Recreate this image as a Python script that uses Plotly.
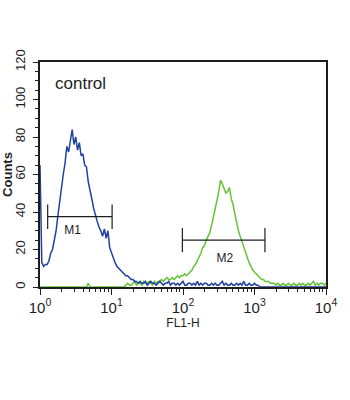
import plotly.graph_objects as go

# channel index: 40 channels per decade over 4 decades (FL1-H = 10**(ch/40))
channel = list(range(161))

blue_counts = (
    [65, 13, 11, 12, 12, 14, 18, 20, 25, 30, 38, 46, 52, 60, 66, 75, 72, 79, 84, 76,
     80, 73, 77, 70, 71, 65, 64, 56, 52, 47, 42, 38, 35, 32, 30, 27, 31, 26, 30, 21,
     18, 15, 13, 11, 10, 9, 8, 7, 6, 6, 5, 4, 4, 3, 3, 2]
    + [3, 2, 2, 3, 1, 2, 3, 2, 2, 1, 2, 3, 2, 1, 2, 2, 3, 1, 2, 2,
       1, 2, 1, 2, 3, 1, 1, 2, 2, 1, 2, 1, 3, 1, 2, 1, 2, 2, 1, 1,
       2, 1, 2, 1, 1, 2, 3, 1, 2, 1, 1, 2, 1, 1, 2, 1, 2, 1, 3, 1,
       1, 2, 1, 1, 2, 1, 1]
    + [0] * 38
)

green_counts = (
    [0] * 27 + [2] + [0] * 20
    + [1, 2, 1, 1, 2, 3, 1, 2, 2, 1, 3, 2, 2, 3, 2, 1, 3, 2, 3]
    + [3, 4, 3, 4, 5, 4, 4, 5, 4, 5, 6, 5, 6, 6, 7, 6, 7, 8, 9, 11,
       12, 14, 16, 18, 21, 22, 25, 27, 29, 33, 37, 42, 46, 51, 57, 55, 52, 50, 51, 53,
       47, 44, 39, 34, 30, 27, 24, 22, 19, 15, 13, 11, 9, 8, 7, 6, 5, 4, 4, 3,
       3, 3, 2, 2, 2, 1, 2, 1]
    + [1, 2, 1, 1, 2, 1, 1, 2, 1, 1, 2, 1, 2, 1, 1, 2, 1, 2, 3, 1, 2, 1, 2, 2, 1, 2]
)

assert len(blue_counts) == len(channel) and len(green_counts) == len(channel)

gate_names = ["M1", "M2"]
gate_lo = [1.28, 98]
gate_hi = [10.2, 1400]
gate_y = [37.5, 25]
gate_half = [6.5, 6.5]
gate_label_x = [2.85, 385]
gate_label_y = [30, 15]

xtick_vals = [1, 10, 100, 1000, 10000]
xtick_text = ["10<sup>0</sup>", "10<sup>1</sup>", "10<sup>2</sup>", "10<sup>3</sup>", "10<sup>4</sup>"]
minor_vals = [m * d for d in [1, 10, 100, 1000] for m in range(2, 10)]

fl1 = [10 ** (c / 40) for c in channel]

FONT = "Liberation Sans, Arial, sans-serif"
INK = "#1e1e1e"

fig = go.Figure()
fig.add_trace(go.Scatter(x=fl1, y=green_counts, mode="lines",
                         line=dict(color="#66c236", width=1.5), hoverinfo="skip"))
fig.add_trace(go.Scatter(x=fl1, y=blue_counts, mode="lines",
                         line=dict(color="#1f409f", width=1.5), hoverinfo="skip"))

# gate markers
for lo, hi, y, h in zip(gate_lo, gate_hi, gate_y, gate_half):
    fig.add_trace(go.Scatter(
        x=[lo, hi, None, lo, lo, None, hi, hi],
        y=[y, y, None, y - h, y + h, None, y - h, y + h],
        mode="lines", line=dict(color=INK, width=1.2), hoverinfo="skip"))
fig.add_trace(go.Scatter(x=gate_label_x, y=gate_label_y, text=gate_names, mode="text",
                         textfont=dict(family=FONT, size=12, color=INK),
                         hoverinfo="skip"))

fig.add_annotation(x=0.045, y=0.905, xref="paper", yref="paper", text="control",
                   showarrow=False, xanchor="left", yanchor="middle",
                   font=dict(family=FONT, size=17, color=INK))

fig.update_layout(
    width=350, height=400,
    margin=dict(l=40, r=24, t=62, b=113),
    paper_bgcolor="white", plot_bgcolor="white",
    showlegend=False,
    font=dict(family=FONT, color=INK),
)
fig.update_xaxes(
    type="log", range=[0, 4], automargin=False,
    tickvals=xtick_vals, ticktext=xtick_text,
    tickfont=dict(size=15, color=INK),
    ticks="outside", ticklen=6, tickwidth=1, tickcolor=INK,
    minor=dict(tickvals=minor_vals, ticks="outside", ticklen=3, tickcolor=INK, showgrid=False),
    showline=True, linecolor=INK, linewidth=1.5, mirror=True,
    showgrid=False, zeroline=False, layer="below traces",
    title=dict(text="FL1-H", font=dict(size=12, color=INK), standoff=0),
)
fig.update_yaxes(
    range=[0, 120], dtick=20, tickangle=-90, automargin=False,
    tickfont=dict(size=13, color=INK),
    ticks="outside", ticklen=5, tickwidth=1, tickcolor=INK,
    ticklabelstandoff=3,
    minor=dict(dtick=5, ticks="outside", ticklen=3, tickcolor=INK, showgrid=False),
    showline=True, linecolor=INK, linewidth=1.5, mirror=True,
    showgrid=False, zeroline=False, layer="below traces",
    title=dict(text="<b>Counts</b>", font=dict(size=13, color=INK), standoff=3),
)

fig.write_html("out.html")
